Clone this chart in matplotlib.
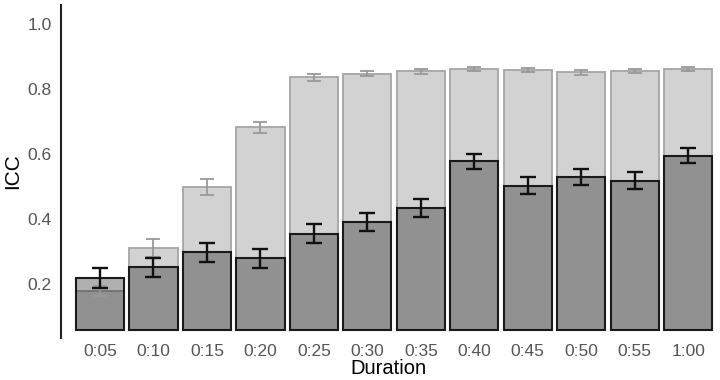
import matplotlib
matplotlib.use("Agg")
import matplotlib.pyplot as plt
import numpy as np

durations = ["0:05", "0:10", "0:15", "0:20", "0:25", "0:30", "0:35", "0:40", "0:45", "0:50", "0:55", "1:00"]
icc_light = [0.179, 0.310, 0.499, 0.682, 0.835, 0.847, 0.854, 0.862, 0.858, 0.851, 0.855, 0.861]
err_light = [0.015, 0.028, 0.024, 0.017, 0.010, 0.009, 0.008, 0.006, 0.006, 0.007, 0.006, 0.006]
icc_dark = [0.219, 0.251, 0.297, 0.279, 0.355, 0.390, 0.433, 0.578, 0.502, 0.528, 0.518, 0.595]
err_dark = [0.030, 0.028, 0.029, 0.030, 0.028, 0.027, 0.027, 0.023, 0.026, 0.025, 0.025, 0.022]
yticks = [0.2, 0.4, 0.6, 0.8, 1.0]

plt.rcParams['font.family'] = ['Liberation Sans', 'DejaVu Sans']

fig = plt.figure(figsize=(7.2, 3.8), dpi=100)
ax = fig.add_axes([0.0847, 0.1105, 0.993 - 0.0847, 0.987 - 0.1105])

x = np.arange(len(durations))
base = 0.058
w = 0.9
light = np.array(icc_light)
dark = np.array(icc_dark)

ax.bar(x, light - base, bottom=base, width=w, color=(0, 0, 0, 0.175),
       edgecolor='#a5a5a5', linewidth=1.3, zorder=2)
ax.bar(x, dark - base, bottom=base, width=w, color=(0, 0, 0, 0.31),
       edgecolor='#1a1a1a', linewidth=1.5, zorder=3)
ax.errorbar(x, light, yerr=err_light, fmt='none', ecolor='#999999',
            elinewidth=1.3, capsize=5, capthick=1.3, zorder=4)
ax.errorbar(x, dark, yerr=err_dark, fmt='none', ecolor='#111111',
            elinewidth=1.7, capsize=5.5, capthick=1.7, zorder=5)

ax.set_xlim(-0.73, 11.5)
ax.set_ylim(0.034, 1.058)
ax.set_xticks(x)
ax.set_xticklabels(durations)
ax.set_yticks(yticks)
ax.set_yticklabels([f"{v:.1f}" for v in yticks])
ax.tick_params(axis='both', length=0, labelsize=12.5, labelcolor='#555555')
ax.tick_params(axis='x', pad=4)
ax.tick_params(axis='y', pad=6.5)
for s in ['top', 'right', 'bottom']:
    ax.spines[s].set_visible(False)
ax.spines['left'].set_linewidth(1.5)
ax.spines['left'].set_color('#222222')
ax.set_ylabel("ICC", fontsize=15, labelpad=4)
ax.set_xlabel("Duration", fontsize=14.5, labelpad=0)

fig.savefig("out.png", dpi=100)
